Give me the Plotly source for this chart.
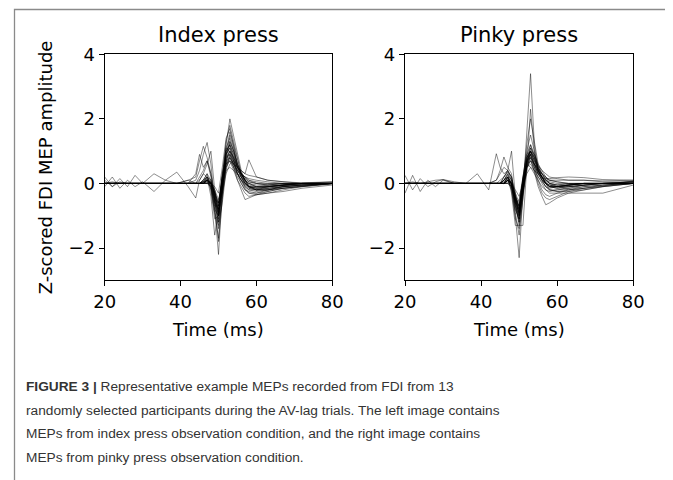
import plotly.graph_objects as go

# page window is 673x480; browser body has an 8px margin, so the figure is 665x472
OFF = 8
W, H = 673 - OFF, 480 - OFF

# time grid (ms)
time_ms = [20, 22, 24, 26, 28, 30, 33, 36, 39, 42, 44, 45, 46, 47, 48, 49, 50,
           51, 52, 53, 54, 55, 56, 57, 58, 60, 63, 67, 72, 80]

# z-scored MEP sweeps, index press condition
index_trials = [
    [0, 0, 0, 0, 0, 0, 0, 0, 0, 0, 0, 0, 0.05, 0.1, 0, -0.8, -2.2, -0.3, 1.0, 1.6, 1.2, 0.7, 0.3, 0, -0.15, -0.2, -0.15, -0.1, -0.05, 0],
    [0, 0, 0, 0, 0, 0, 0, 0, 0, 0, 0, 0, 0, 0.05, -0.1, -0.9, -1.7, -0.2, 1.2, 2.0, 1.5, 0.9, 0.4, 0.1, -0.1, -0.2, -0.15, -0.08, -0.03, 0],
    [0.1, -0.1, 0.05, 0, 0, 0, 0, 0, 0, 0, 0.1, 0.4, 0.9, 1.27, 0.6, -0.6, -1.8, -0.5, 0.6, 1.3, 1.0, 0.6, 0.3, 0.1, 0, -0.1, -0.1, -0.05, 0, 0.02],
    [0, 0, 0, 0, 0, 0, 0, 0, 0, 0.1, 0.2, 0.7, 1.15, 0.8, 0.3, -0.5, -1.4, -0.4, 0.8, 1.5, 1.1, 0.5, 0.2, -0.1, -0.2, -0.25, -0.2, -0.1, -0.05, 0],
    [0, 0.05, 0, 0, 0, 0, 0, 0, 0, 0, 0.3, 0.9, 0.5, 0.7, 0.2, -0.4, -1.0, 0.2, 1.3, 1.8, 1.3, 0.7, 0.3, 0.1, -0.1, -0.2, -0.2, -0.1, -0.05, 0],
    [0, 0, 0, 0, 0, 0, 0, 0, 0, 0, 0, 0.1, 0.3, 0.6, 1.0, -0.2, -0.9, -0.1, 0.9, 1.2, 0.9, 0.5, 0.3, 0.1, 0, -0.1, -0.1, -0.05, 0, 0],
    [0, 0, 0, 0, 0, 0, 0, 0, 0, 0, 0, 0, 0, 0.1, 0, -0.3, -0.8, 0.3, 0.8, 0.9, 0.5, 0.1, -0.2, -0.5, -0.45, -0.35, -0.3, -0.2, -0.1, -0.02],
    [0, 0, 0, 0, 0, 0, 0, 0, 0, 0, 0, 0, 0.1, 0.2, 0.1, -0.4, -0.9, 0, 0.7, 1.0, 0.8, 0.5, 0.4, 0.3, 0.73, 0.2, 0.1, 0.05, 0, 0],
    [0.2, -0.1, 0.15, -0.1, 0.25, 0, 0.3, 0.1, 0.35, -0.1, -0.45, 0.1, 0.3, 0.2, 0, -0.6, -1.2, -0.2, 0.6, 0.9, 0.6, 0.3, 0.1, -0.1, -0.2, -0.2, -0.1, -0.05, 0, 0],
    [-0.1, 0.2, -0.15, 0.1, -0.1, 0.05, -0.25, 0.1, 0, 0.1, 0, 0, 0.1, 0.2, 0.1, -0.5, -1.1, -0.3, 0.5, 0.8, 0.6, 0.3, 0.1, 0, -0.1, -0.15, -0.1, -0.05, 0, 0],
    [0, 0, 0, 0, 0, 0, 0, 0, 0, 0, 0, 0, 0, 0, 0, -0.2, -0.5, 0, 0.4, 0.5, 0.4, 0.3, 0.2, 0.1, 0, -0.05, -0.05, 0, 0, 0],
    [0, 0, 0, 0, 0, 0, 0, 0, 0, 0, 0, 0, 0.05, 0.15, -0.1, -0.7, -0.7, 0.1, 1.0, 1.2, 0.7, 0.3, 0, -0.2, -0.3, -0.3, -0.25, -0.15, -0.08, 0],
    [0, 0, 0, 0, 0, 0, 0, 0, 0, 0, 0, 0, 0, 0, -0.1, -0.5, -0.6, 0.2, 0.6, 0.7, 0.6, 0.5, 0.4, 0.3, 0.25, 0.2, 0.1, 0.05, 0.02, 0.05],
    [0, 0, 0, 0, 0, 0, 0, 0, 0, 0, 0, 0, 0, 0.2, -0.4, -1.6, -0.9, 0.2, 1.1, 1.4, 1.0, 0.6, 0.3, 0.1, -0.1, -0.15, -0.1, -0.05, 0, 0],
    [0, 0, 0, 0, 0, 0, 0, 0, 0, 0, 0, 0, 0.1, 0.3, 0.1, -0.4, -0.8, -0.2, 0.9, 1.1, 0.8, 0.5, 0.3, 0.2, 0.1, 0, -0.05, -0.05, 0, 0],
    [0, 0, 0, 0, 0, 0, 0, 0, 0, 0, 0, 0, 0, 0.1, 0, -0.3, -0.7, 0.1, 0.5, 0.7, 0.4, 0.1, -0.1, -0.3, -0.4, -0.35, -0.3, -0.25, -0.15, -0.05],
    [0, 0, 0, 0, 0, 0, 0, 0, 0, 0, 0, 0.2, 0.4, 0.7, 0.3, -0.3, -1.0, 0, 0.8, 1.0, 0.7, 0.4, 0.2, 0, -0.1, -0.1, -0.05, 0, 0, 0],
    [0, 0, 0, 0, 0, 0, 0, 0, 0, 0, 0, 0, 0, 0, 0, -0.1, -0.3, 0.5, 1.4, 1.7, 1.1, 0.6, 0.3, 0.15, 0.05, 0, 0, 0, 0, 0],
    [0, 0, 0, 0, 0, 0, 0, 0, 0, 0, 0, 0, 0, 0.1, -0.2, -0.9, -1.3, -0.6, 0.4, 0.9, 0.7, 0.4, 0.2, 0, -0.1, -0.12, -0.1, -0.05, 0, 0],
    [0, 0, 0, 0, 0, 0, 0, 0, 0, 0, 0, 0, 0, 0, 0.05, -0.3, -0.6, -0.3, 0.3, 0.6, 0.7, 0.5, 0.3, 0.2, 0.1, 0.05, 0, 0, 0, 0],
    [0, 0, 0, 0, 0, 0, 0, 0, 0, 0, 0, 0, 0, 0.1, 0, -0.5, -1.0, 0, 0.9, 1.3, 1.0, 0.6, 0.3, 0.1, -0.05, -0.1, -0.1, -0.05, 0, 0],
    [0, 0, 0, 0, 0, 0, 0, 0, 0, 0, 0, 0, 0.05, 0.1, -0.1, -0.6, -0.8, 0.1, 0.7, 1.0, 0.8, 0.5, 0.2, 0, -0.1, -0.2, -0.2, -0.15, -0.1, 0],
    [0, 0, 0, 0, 0, 0, 0, 0, 0, 0, 0, 0, 0, 0.15, 0, -0.4, -0.9, -0.1, 0.6, 0.8, 0.6, 0.4, 0.25, 0.15, 0.05, 0, -0.05, -0.05, 0, 0.05],
    [0, 0, 0, 0, 0, 0, 0, 0, 0, 0, 0, 0, 0.1, 0.3, -0.2, -1.1, -1.0, 0.1, 0.9, 1.1, 0.7, 0.3, 0.1, -0.15, -0.3, -0.35, -0.25, -0.15, -0.1, 0],
    [0, 0, 0, 0, 0, 0, 0, 0, 0, 0, 0, 0, 0, 0.05, 0, -0.3, -0.6, 0.2, 0.6, 0.7, 0.5, 0.3, 0.1, -0.05, -0.15, -0.2, -0.2, -0.15, -0.08, 0],
    [0, 0, 0, 0, 0, 0, 0, 0, 0, 0, 0, 0, 0, 0.1, 0.05, -0.5, -1.2, -0.1, 1.0, 1.2, 0.9, 0.5, 0.25, 0.05, -0.1, -0.15, -0.15, -0.1, -0.05, 0],
    [0, 0, 0, 0, 0, 0, 0, 0, 0, 0, 0, 0, 0, 0.1, 0, -0.2, -0.7, 0.3, 1.1, 1.0, 0.6, 0.4, 0.3, 0.2, 0.15, 0.1, 0.05, 0, 0, 0],
    [0, 0, 0, 0, 0, 0, 0, 0, 0, 0, 0, 0, 0.05, 0.2, 0, -0.8, -1.0, -0.2, 0.7, 0.8, 0.5, 0.2, 0, -0.2, -0.25, -0.3, -0.2, -0.1, -0.05, 0],
]

# z-scored MEP sweeps, pinky press condition
pinky_trials = [
    [0, 0, 0, 0, 0, 0, 0, 0, 0, 0, 0, 0, 0, 0.1, 0, -1.0, -2.3, -0.3, 1.5, 3.4, 1.2, 0.4, 0.1, -0.1, -0.15, -0.1, -0.05, 0, 0, 0],
    [0, 0, 0, 0, 0, 0, 0, 0, 0, 0, 0, 0, 0.1, 0.2, -0.3, -1.3, -1.3, -1.3, 0.5, 2.3, 1.0, 0.4, 0.2, 0, -0.1, -0.1, -0.05, 0, 0, 0],
    [0, 0, 0, 0, 0, 0, 0, 0, 0, 0, 0, 0, 0.2, 0.4, 0.1, -0.8, -1.1, 0, 1.2, 2.0, 1.3, 0.6, 0.3, 0.1, 0, -0.05, -0.05, 0, 0, 0],
    [0, 0, 0, 0, 0, 0, 0, 0, 0.3, -0.2, 0.92, 0.5, 0.3, 0.4, 0.2, -0.5, -1.0, 0.2, 1.0, 1.5, 1.0, 0.5, 0.2, 0, -0.1, -0.1, -0.05, 0, 0, 0],
    [0, 0, 0, 0, 0, 0, 0, 0, 0, 0, 0.1, 0.4, 0.82, 0.5, 0.3, -0.6, -1.2, -0.2, 0.8, 1.0, 0.7, 0.4, 0.2, 0, -0.2, -0.2, -0.15, -0.05, 0, 0.05],
    [0, 0, 0, 0, 0, 0, 0, 0, 0, 0, 0, 0.1, 0.2, 0.4, 1.0, -0.4, -1.0, -0.1, 0.7, 1.0, 0.8, 0.5, 0.3, 0.1, 0, -0.05, 0, 0, 0, 0],
    [0, 0, 0, 0, 0, 0, 0, 0, 0, 0, 0, 0, 0, 0.1, 0, -0.4, -0.9, 0, 0.6, 0.8, 0.3, -0.1, -0.4, -0.66, -0.6, -0.45, -0.3, -0.2, -0.1, 0],
    [0, 0, 0, 0, 0, 0, 0, 0, 0, 0, 0, 0, 0.1, 0.2, 0, -0.5, -0.8, 0.1, 0.7, 0.9, 0.5, 0.2, 0, -0.2, -0.3, -0.3, -0.3, -0.32, -0.3, -0.05],
    [-0.3, 0.25, -0.25, 0.1, -0.1, 0.1, 0, 0, 0, 0, 0, 0, 0.1, 0.3, 0.1, -0.6, -1.1, -0.2, 0.6, 1.1, 0.8, 0.4, 0.2, 0, -0.1, -0.1, -0.05, 0, 0, 0],
    [0.25, -0.2, 0.15, -0.1, 0.05, 0.12, 0.05, 0, 0, 0, 0, 0, 0, 0.2, 0, -0.4, -0.7, 0.2, 0.9, 1.0, 0.6, 0.3, 0.1, 0, -0.05, -0.1, -0.05, 0, 0, 0.02],
    [0, 0, 0, 0, 0, 0, 0, 0, 0, 0, 0, 0, 0, 0.1, -0.1, -0.6, -0.9, 0, 0.8, 1.0, 0.7, 0.55, 0.4, 0.3, 0.2, 0.15, 0.1, 0.1, 0.05, 0.05],
    [0, 0, 0, 0, 0, 0, 0, 0, 0, 0, 0, 0, 0, 0, 0, -0.2, -0.4, 0, 0.3, 0.5, 0.4, 0.3, 0.2, 0.1, 0.05, 0, 0, 0, 0, 0],
    [0, 0, 0, 0, 0, 0, 0, 0, 0, 0, 0, 0, 0, 0.2, -0.2, -1.1, -1.4, -0.5, 0.6, 1.0, 0.8, 0.4, 0.2, 0, -0.1, -0.1, -0.05, 0, 0, 0],
    [0, 0, 0, 0, 0, 0, 0, 0, 0, 0, 0, 0, 0, 0.1, 0, -0.4, -0.8, 0.1, 0.6, 0.7, 0.4, 0, -0.3, -0.45, -0.5, -0.4, -0.25, -0.15, -0.05, 0],
    [0, 0, 0, 0, 0, 0, 0, 0, 0, 0, 0.1, 0.3, 0.5, 0.4, 0.2, -0.5, -0.9, 0, 0.7, 0.9, 0.6, 0.3, 0.1, 0, -0.05, -0.1, -0.1, -0.05, 0, 0.05],
    [0, 0, 0, 0, 0, 0, 0, 0, 0, 0, 0, 0, 0, 0, -0.1, -0.5, -0.7, 0.1, 0.5, 0.7, 0.5, 0.3, 0.2, 0.15, 0.15, 0.18, 0.2, 0.18, 0.12, 0.1],
    [0, 0, 0, 0, 0, 0, 0, 0, 0, 0, 0, 0, 0, 0.1, -0.2, -0.9, -1.6, -0.4, 0.7, 1.2, 0.9, 0.5, 0.2, 0, -0.1, -0.15, -0.1, -0.05, 0, 0],
    [0, 0, 0, 0, 0, 0, 0, 0, 0, 0, 0, 0, 0, 0, -0.1, -0.6, -0.5, 0.2, 0.6, 0.5, 0.3, 0.1, -0.1, -0.2, -0.25, -0.2, -0.15, -0.1, -0.05, 0],
    [0, 0.05, 0, 0.05, 0.1, 0.12, 0, 0, 0, 0, 0, 0, 0.2, 0.35, 0.2, -0.3, -0.8, -0.1, 0.5, 0.8, 0.6, 0.4, 0.3, 0.2, 0.1, 0.05, 0, 0, 0, 0],
    [0, 0, 0, 0, 0, 0, 0, 0, 0, 0, 0, 0, 0, 0.1, 0, -0.7, -1.0, -0.3, 0.4, 1.0, 0.9, 0.6, 0.4, 0.2, 0, -0.1, -0.2, -0.15, -0.08, 0.08],
    [0, 0, 0, 0, 0, 0, 0, 0, 0, 0, 0, 0, 0, 0.1, 0, -0.5, -1.0, -0.1, 0.8, 1.0, 0.7, 0.4, 0.2, 0.05, -0.05, -0.1, -0.1, -0.05, 0, 0.05],
    [0, 0, 0, 0, 0, 0, 0, 0, 0, 0, 0, 0, 0.1, 0.3, -0.1, -0.8, -1.1, -0.2, 0.6, 0.9, 0.6, 0.3, 0.1, -0.1, -0.2, -0.25, -0.2, -0.15, -0.08, 0],
    [0, 0, 0, 0, 0, 0, 0, 0, 0, 0, 0, 0, 0, 0.2, 0, -0.4, -0.7, 0, 0.7, 0.8, 0.6, 0.45, 0.3, 0.2, 0.1, 0.05, 0, 0, 0, 0.05],
    [0, 0, 0, 0, 0, 0, 0, 0, 0, 0, 0, 0, 0.1, 0.25, 0.1, -0.6, -1.3, -0.3, 0.5, 0.9, 0.5, 0.1, -0.2, -0.35, -0.4, -0.3, -0.2, -0.1, -0.05, 0],
    [0, 0, 0, 0, 0, 0, 0, 0, 0, 0, 0, 0, 0, 0.1, -0.1, -0.5, -0.9, 0.1, 0.9, 1.2, 0.8, 0.4, 0.15, 0, -0.1, -0.15, -0.1, -0.05, 0, 0],
    [0, 0, 0, 0, 0, 0, 0, 0, 0, 0, 0, 0, 0.05, 0.15, 0, -0.3, -0.6, 0.1, 0.5, 0.6, 0.4, 0.2, 0.05, -0.1, -0.2, -0.25, -0.25, -0.2, -0.1, 0],
    [0, 0, 0, 0, 0, 0, 0, 0, 0, 0, 0, 0, 0.1, 0.2, 0, -0.7, -1.2, -0.2, 0.6, 1.1, 0.9, 0.5, 0.3, 0.15, 0.1, 0.1, 0.12, 0.1, 0.08, 0.1],
    [0, 0, 0, 0, 0, 0, 0, 0, 0, 0, 0, 0, 0, 0.05, 0, -0.4, -0.8, -0.1, 0.5, 0.7, 0.6, 0.35, 0.2, 0.1, 0, -0.05, -0.05, 0, 0, 0],
]

panel_titles = ["Index press", "Pinky press"]
x_ticks = [20, 40, 60, 80]
y_ticks = [-2, 0, 2, 4]
y_tick_labels = ["\u22122", "0", "2", "4"]
x_label = "Time (ms)"
y_label = "Z-scored FDI MEP amplitude"
caption_lines = [
    "<b>FIGURE 3 |</b> Representative example MEPs recorded from FDI from 13",
    "randomly selected participants during the AV-lag trials. The left image contains",
    "MEPs from index press observation condition, and the right image contains",
    "MEPs from pinky press observation condition.",
]

for tr in index_trials + pinky_trials:
    assert len(tr) == len(time_ms)

# ---- layout geometry (window pixels -> paper fractions) ----
def px_x(p):
    return (p - OFF) / W

def px_y(p):
    return 1 - (p - OFF) / H

plot_top, plot_bot = 54.3, 280.3
left_dom = [px_x(104.7), px_x(332.3)]
right_dom = [px_x(405.0), px_x(633.3)]
y_dom = [px_y(plot_bot), px_y(plot_top)]

fig = go.Figure()
line_style = dict(color="rgba(0,0,0,0.5)", width=0.9)
for tr in index_trials:
    fig.add_trace(go.Scatter(x=time_ms, y=tr, mode="lines", line=line_style,
                             xaxis="x", yaxis="y", showlegend=False, hoverinfo="skip"))
for tr in pinky_trials:
    fig.add_trace(go.Scatter(x=time_ms, y=tr, mode="lines", line=line_style,
                             xaxis="x2", yaxis="y2", showlegend=False, hoverinfo="skip"))

tick_font = dict(family="DejaVu Sans", size=18, color="black")
common_x = dict(range=[20, 80], tickvals=x_ticks, ticks="outside", ticklen=5, tickwidth=1,
                tickcolor="black", showline=True, linecolor="black", linewidth=1.2,
                mirror=True, showgrid=False, zeroline=False, tickfont=tick_font,
                automargin=False)
common_y = dict(range=[-3, 4], tickvals=y_ticks, ticktext=y_tick_labels, ticks="outside",
                ticklen=5, tickwidth=1, tickcolor="black", showline=True,
                linecolor="black", linewidth=1.2, mirror=True, showgrid=False,
                zeroline=False, tickfont=tick_font, automargin=False)

fig.update_layout(
    width=W, height=H,
    margin=dict(l=0, r=0, t=0, b=0, pad=0),
    paper_bgcolor="white", plot_bgcolor="white",
    xaxis=dict(domain=left_dom, anchor="y", **common_x),
    yaxis=dict(domain=y_dom, anchor="x", **common_y),
    xaxis2=dict(domain=right_dom, anchor="y2", **common_x),
    yaxis2=dict(domain=y_dom, anchor="x2", **common_y),
)

annotations = []
centers = [(104.7 + 332.3) / 2, (405.0 + 633.3) / 2]
for cx, title in zip(centers, panel_titles):
    annotations.append(dict(text=title, x=px_x(cx), y=px_y(35), xref="paper", yref="paper",
                            xanchor="center", yanchor="middle", showarrow=False,
                            font=dict(family="DejaVu Sans", size=21, color="black")))
    annotations.append(dict(text=x_label, x=px_x(cx), y=px_y(329), xref="paper", yref="paper",
                            xanchor="center", yanchor="middle", showarrow=False,
                            font=dict(family="DejaVu Sans", size=18, color="black")))
annotations.append(dict(text=y_label, x=px_x(45), y=px_y(167.3), xref="paper", yref="paper",
                        xanchor="center", yanchor="middle", showarrow=False, textangle=-90,
                        font=dict(family="DejaVu Sans", size=18, color="black")))

cap_y = [386.7, 410.2, 433.8, 457.3]
for yy, line in zip(cap_y, caption_lines):
    annotations.append(dict(text=line, x=px_x(24), y=px_y(yy), xref="paper", yref="paper",
                            xanchor="left", yanchor="middle", showarrow=False,
                            font=dict(family="Liberation Sans, Arial", size=13.7,
                                      color="#333333")))
fig.update_layout(annotations=annotations)

fig.add_shape(type="rect", xref="paper", yref="paper",
              x0=px_x(14.5), x1=px_x(671.5), y0=-0.05, y1=px_y(9.5),
              line=dict(color="#8a8a8a", width=1.3), fillcolor="rgba(0,0,0,0)", layer="below")

fig.write_html("out.html")
